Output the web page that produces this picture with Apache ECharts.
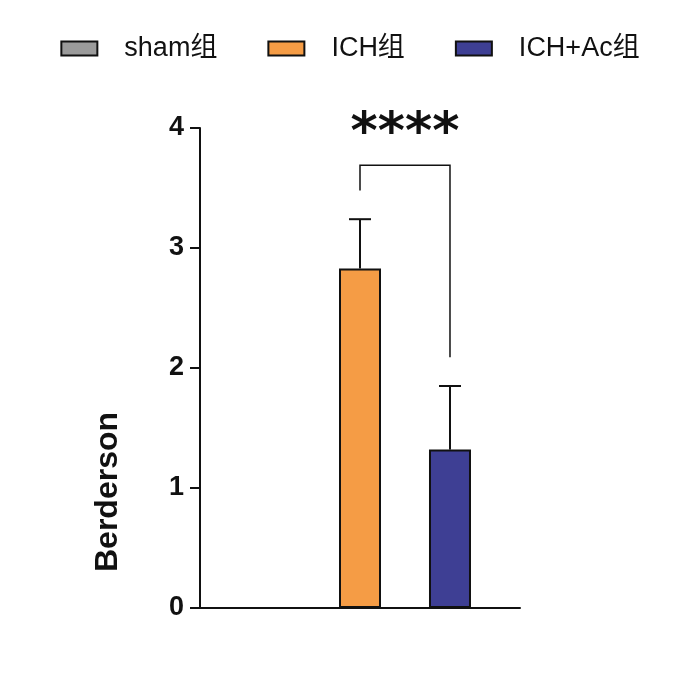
<!DOCTYPE html>
<html>
<head>
<meta charset="utf-8">
<script src="https://cdn.jsdelivr.net/npm/echarts@6/dist/echarts.min.js"></script>
</head>
<body style="margin:0">
<div id="main" style="width:700px;height:673px"></div>
<script>
var groups   = ['sham组', 'ICH组', 'ICH+Ac组'];
var colors   = ['#9b9b9b', '#F59C45', '#3E3F94'];
var xPos     = [1, 2, 3];
var means    = [0, 2.83, 1.32];
var errTop   = [0, 3.24, 1.85];
var yTicks   = [0, 1, 2, 3, 4];
// 显著性标记 ICH vs ICH+Ac
var sig      = { from: 2, to: 3, top: 3.69, leftEnd: 3.48, rightEnd: 2.09, text: '****', textY: 3.95 };

var myChart = echarts.init(document.getElementById('main'));

var series = groups.map(function (g, i) {
    return {
        name: g, type: 'bar', barWidth: 42, barGap: '-100%',
        itemStyle: { color: colors[i], borderColor: '#111', borderWidth: 2 },
        data: means[i] > 0 ? [[xPos[i], means[i]]] : []
    };
});

// 误差线
series.push({
    type: 'custom', silent: true,
    data: xPos.map(function (x, i) { return [x, means[i], errTop[i]]; }).filter(function (d) { return d[1] > 0; }),
    renderItem: function (params, api) {
        var lo = api.coord([api.value(0), api.value(1)]);
        var hi = api.coord([api.value(0), api.value(2)]);
        var st = { stroke: '#111', lineWidth: 2 };
        return { type: 'group', children: [
            { type: 'line', shape: { x1: lo[0], y1: lo[1], x2: hi[0], y2: hi[1] }, style: st },
            { type: 'line', shape: { x1: hi[0] - 11, y1: hi[1], x2: hi[0] + 11, y2: hi[1] }, style: st }
        ]};
    }
});

// 显著性括号
series.push({
    type: 'custom', silent: true, data: [[0]],
    renderItem: function (params, api) {
        var a = api.coord([sig.from, sig.leftEnd]);
        var b = api.coord([sig.from, sig.top]);
        var c = api.coord([sig.to, sig.top]);
        var d = api.coord([sig.to, sig.rightEnd]);
        var t = api.coord([(sig.from + sig.to) / 2, sig.textY]);
        return { type: 'group', children: [
            { type: 'polyline', shape: { points: [a, b, c, d] }, style: { stroke: '#111', lineWidth: 1.5, fill: null } },
            { type: 'text', x: t[0], y: t[1], style: { text: sig.text, fill: '#111', font: 'bold 52px "DejaVu Sans"', align: 'center', verticalAlign: 'middle' } }
        ]};
    }
});

var option = {
    animation: false,
    legend: {
        top: 30, left: 'center', itemGap: 50, itemWidth: 36, itemHeight: 14, icon: 'rect',
        data: groups.map(function (g, i) { return { name: g, itemStyle: { color: colors[i], borderColor: '#111', borderWidth: 2 } }; }),
        textStyle: { fontSize: 27, color: '#111', padding: [0, 0, 0, 22], fontFamily: 'Arial, "Noto Sans CJK SC"' }
    },
    grid: { left: 200, right: 180, top: 128, bottom: 65 },
    xAxis: {
        type: 'value', min: 0.222, max: 3.778,
        axisLine: { show: true, lineStyle: { color: '#111', width: 2 } },
        axisTick: { show: false }, axisLabel: { show: false }, splitLine: { show: false }
    },
    yAxis: {
        type: 'value', min: yTicks[0], max: yTicks[yTicks.length - 1], interval: 1,
        axisLine: { show: true, lineStyle: { color: '#111', width: 2 } },
        axisTick: { show: true, length: 10, lineStyle: { width: 2 } },
        axisLabel: { fontSize: 27, fontWeight: 'bold', color: '#111', margin: 16, fontFamily: 'Arial' },
        splitLine: { show: false }
    },
    graphic: [{
        type: 'text', x: 108, y: 492, rotation: Math.PI / 2,
        style: { text: 'Berderson', font: 'bold 32px Arial', fill: '#111', align: 'center', verticalAlign: 'middle' }
    }],
    series: series
};
myChart.setOption(option);
</script>
</body>
</html>
